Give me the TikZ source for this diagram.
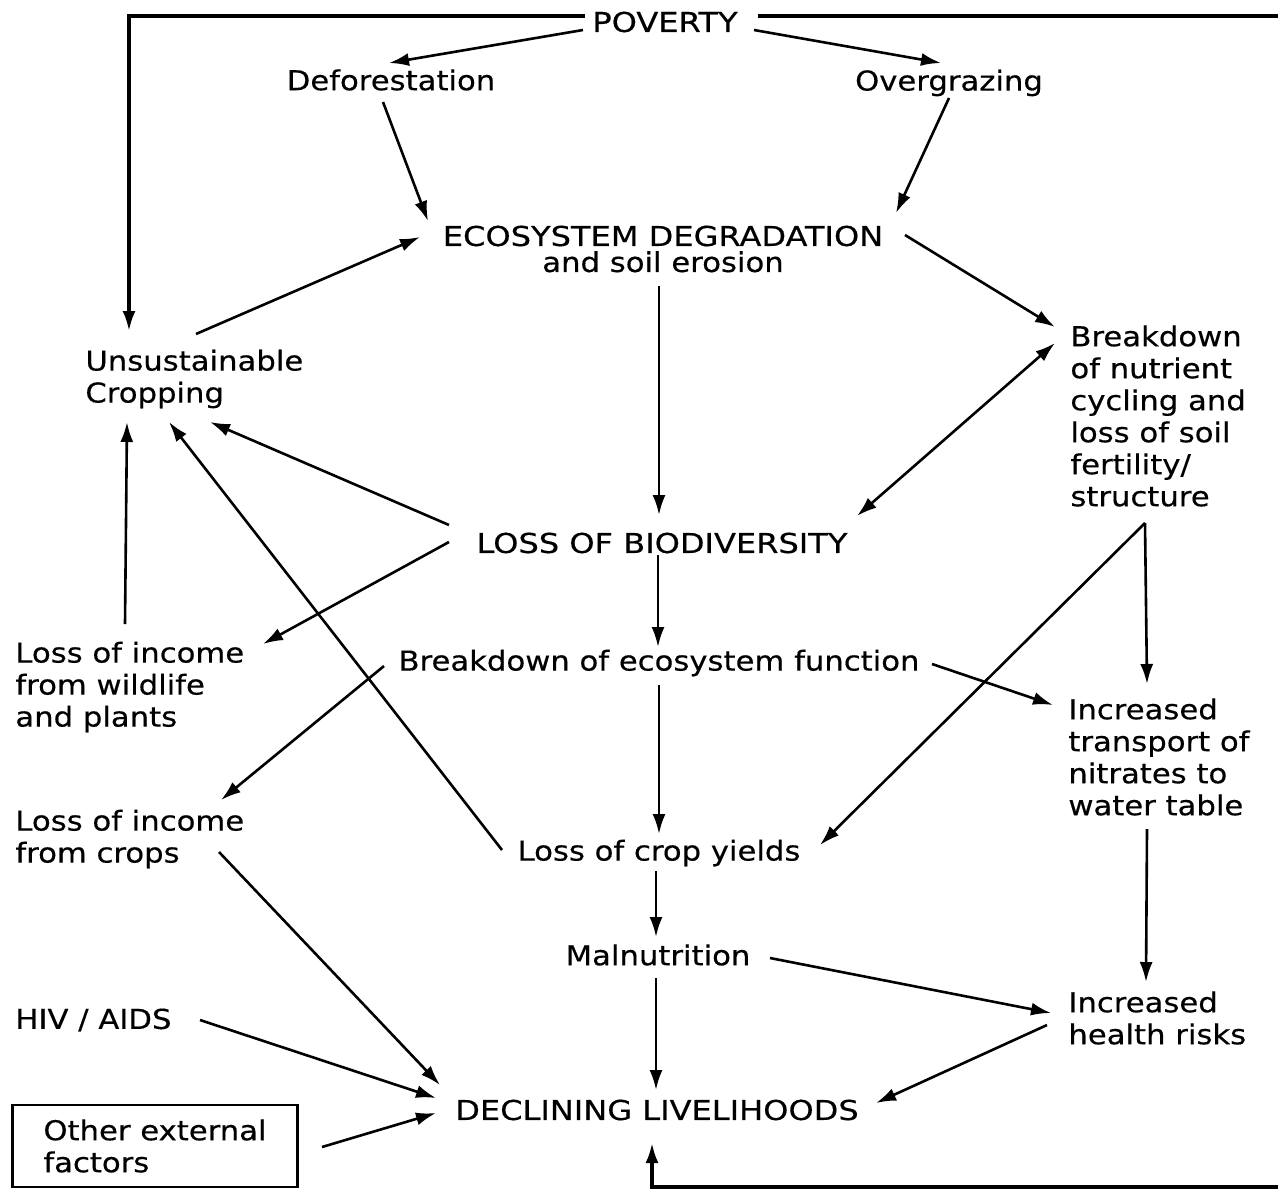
\documentclass[tikz,border=0pt]{standalone}
\usepackage{fontspec}
\setmainfont{DejaVu Sans}[FakeStretch=1.12,FakeBold=0.4]
\newfontfamily\capsf{DejaVu Sans}[FakeStretch=1.17,FakeBold=0.4]
\usetikzlibrary{arrows.meta,calc}
\newcommand{\lblfont}{\fontsize{13.7pt}{16pt}\selectfont}
\tikzset{
  lbl/.style={inner sep=0pt, font=\lblfont, align=center},
  lft/.style={inner sep=0pt, font=\lblfont, align=left, anchor=west},
  capsnode/.style={inner sep=0pt, font={\lblfont\capsf}, align=center},
  arr/.style={line width=1.3pt, -{Latex[length=10pt,width=6.5pt]}},
  dblarr/.style={line width=1.3pt, {Latex[length=10pt,width=6.5pt]}-{Latex[length=10pt,width=6.5pt]}},
  framearr/.style={line width=1.6pt, -{Latex[length=10pt,width=6.5pt]}},
  extbox/.style={draw, line width=1.3pt, inner sep=0pt, font=\lblfont, align=left,
    minimum width=142.5pt, minimum height=41pt}
}
\begin{document}
\begin{tikzpicture}[x=0.5pt,y=-0.5pt]
\useasboundingbox (0,0) rectangle (1278,1189);
\fill[white] (0,0) rectangle (1278,1189);

% nodes
\node[capsnode] (pov) at (665,22) {POVERTY};
\node[lbl] (def) at (391,80) {Deforestation};
\node[lbl] (ovg) at (949,83) {Overgrazing};
\node[lbl] (eco) at (663,249) {{\capsf ECOSYSTEM DEGRADATION}\\[-3pt]and soil erosion};
\node[lft] (uns) at (85,379) {Unsustainable\\Cropping};
\node[lft] (bnc) at (1070,416) {Breakdown\\of nutrient\\cycling and\\loss of soil\\fertility/\\structure};
\node[capsnode] (lob) at (662,543) {LOSS OF BIODIVERSITY};
\node[lft] (liw) at (15,687) {Loss of income\\from wildlife\\and plants};
\node[lbl] (bef) at (659,663) {Breakdown of ecosystem function};
\node[lft] (itn) at (1068,757) {Increased\\transport of\\nitrates to\\water table};
\node[lft] (lic) at (15,839) {Loss of income\\from crops};
\node[lbl] (lcy) at (659,853) {Loss of crop yields};
\node[lbl] (mal) at (658,955) {Malnutrition};
\node[lft] (hiv) at (15,1020) {HIV / AIDS};
\node[lft] (ihr) at (1068,1018) {Increased\\health risks};
\node[capsnode] (dec) at (657,1110) {DECLINING LIVELIHOODS};
\node[extbox] (oef) at (155,1146) {Other external\\factors};

\coordinate (rt) at (1300,16);
\coordinate (rb) at (1300,1187);

% frame connectors from POVERTY
\draw[framearr] ($(pov)+(-80,-6)$) -| ($(uns.west)+(44,-48)$);
\draw[framearr] ($(pov)+(93,-6)$) -- (rt) -- (rb) -| ($(dec)+(-5,33)$);

% connectors
\draw[arr] ($(pov)+(-82,8)$) -- ($(def)+(-2,-17)$);
\draw[arr] ($(pov)+(89,8)$) -- ($(ovg)+(-8,-20)$);
\draw[arr] ($(def)+(-8,22)$) -- ($(eco)+(-235,-28)$);
\draw[arr] ($(ovg)+(0,15)$) -- ($(eco)+(233,-36)$);
\draw[arr] ($(uns.west)+(111,-45)$) -- ($(eco)+(-243,-12)$);
\draw[arr] ($(eco)+(242,-14)$) -- ($(bnc.west)+(-15,-89)$);
\draw[arr] ($(eco)+(-4,37)$) -- ($(lob)+(-3,-28)$);
\draw[dblarr] ($(bnc.west)+(-15,-73)$) -- ($(lob)+(195,-27)$);
\draw[arr] ($(bnc.west)+(75,107)$) -- ($(itn.west)+(79,-73)$);
\draw[arr] ($(bnc.west)+(75,107)$) -- ($(lcy)+(161,-8)$);
\draw[arr] ($(lob)+(-213,-18)$) -- ($(uns.west)+(125,43)$);
\draw[arr] ($(lob)+(-213,-1)$) -- ($(liw.west)+(248,-43)$);
\draw[arr] ($(lob)+(-4,12)$) -- ($(bef)+(-1,-16)$);
\draw[arr] ($(liw.west)+(110,-63)$) -- ($(uns.west)+(42,43)$);
\draw[arr] ($(bef)+(-275,3)$) -- ($(lic.west)+(206,-39)$);
\draw[arr] ($(bef)+(273,1)$) -- ($(itn.west)+(-15,-52)$);
\draw[arr] ($(bef)+(0,22)$) -- ($(lcy)+(0,-19)$);
\draw[arr] ($(lcy)+(-157,-3)$) -- ($(uns.west)+(84,43)$);
\draw[arr] ($(lcy)+(-3,18)$) -- ($(mal)+(-2,-18)$);
\draw[arr] ($(mal)+(112,3)$) -- ($(ihr.west)+(-17,-5)$);
\draw[arr] ($(mal)+(-2,23)$) -- ($(dec)+(-1,-20)$);
\draw[arr] ($(itn.west)+(79,72)$) -- ($(ihr.west)+(78,-36)$);
\draw[arr] ($(ihr.west)+(-21,7)$) -- ($(dec)+(219,-7)$);
\draw[arr] ($(lic.west)+(204,13)$) -- ($(dec)+(-217,-25)$);
\draw[arr] ($(hiv.west)+(185,0)$) -- ($(dec)+(-221,-12)$);
\draw[arr] ($(oef)+(167,1)$) -- ($(dec)+(-221,3)$);
\end{tikzpicture}
\end{document}
